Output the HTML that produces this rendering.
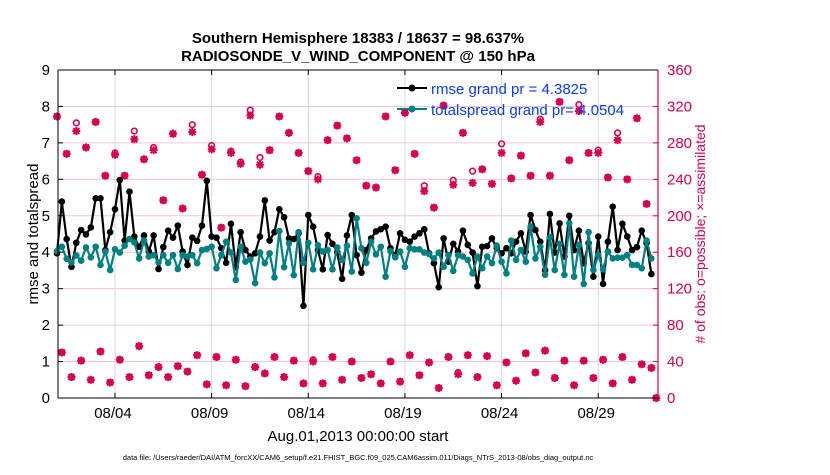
<!DOCTYPE html>
<html><head><meta charset="utf-8">
<style>
body{margin:0;background:#fff;font-family:"Liberation Sans",sans-serif;}
svg text{font-family:"Liberation Sans",sans-serif;}
</style></head>
<body>
<svg id="chart" width="830" height="470" xmlns="http://www.w3.org/2000/svg">
<rect width="830" height="470" fill="#fff"/>
<text x="358" y="43" text-anchor="middle" font-size="15" font-weight="bold">Southern Hemisphere 18383 / 18637 = 98.637%</text>
<text x="358" y="61" text-anchor="middle" font-size="15" font-weight="bold">RADIOSONDE_V_WIND_COMPONENT @ 150 hPa</text>
<g id="grid"></g>
<g id="marks"></g>
<g id="axes"></g>
<text transform="translate(38,234) rotate(-90)" text-anchor="middle" font-size="15">rmse and totalspread</text>
<text transform="translate(705,234) rotate(-90)" text-anchor="middle" font-size="14" fill="#d6004f"># of obs: o=possible; ×=assimilated</text>
<text x="358" y="441" text-anchor="middle" font-size="15">Aug.01,2013 00:00:00 start</text>
<text x="358" y="460" text-anchor="middle" font-size="7.5">data file: /Users/raeder/DAI/ATM_forcXX/CAM6_setup/f.e21.FHIST_BGC.f09_025.CAM6assim.011/Diags_NTrS_2013-08/obs_diag_output.nc</text>
<g>
<line x1="397" y1="88" x2="427" y2="88" stroke="#000" stroke-width="2"/>
<circle cx="412" cy="88" r="3.5" fill="#000"/>
<text x="431" y="94" font-size="15" fill="#0a3cff">rmse grand pr = 4.3825</text>
<line x1="397" y1="109" x2="427" y2="109" stroke="#008080" stroke-width="2"/>
<circle cx="412" cy="109" r="3.5" fill="#008080"/>
<text x="431" y="115" font-size="15" fill="#0a3cff">totalspread grand pr= 4.0504</text>
</g>
</svg>
<script>
const tickDays = [3, 8, 13, 18, 23, 28];
const tickLabels = ["08/04", "08/09", "08/14", "08/19", "08/24", "08/29"];
const leftTicks = [0,1,2,3,4,5,6,7,8,9];
const rightTicks = [0,40,80,120,160,200,240,280,320,360];
const rmse = [3.97,5.39,4.36,3.60,4.26,4.61,4.49,4.68,5.48,5.48,4.06,4.55,5.18,5.98,4.32,5.66,4.43,4.15,4.46,4.02,4.46,3.54,4.14,4.59,4.40,4.73,4.02,3.65,4.40,4.31,4.73,5.96,
4.43,4.40,4.11,3.71,4.78,3.59,4.55,4.06,3.88,3.97,4.43,5.42,4.32,4.55,5.18,4.96,4.38,4.36,4.52,2.53,5.02,4.70,4.06,3.53,4.47,4.23,4.00,3.27,4.46,5.02,3.92,
3.44,4.06,4.38,4.57,4.63,4.70,4.11,3.92,4.52,4.34,4.29,4.43,4.52,4.63,3.97,3.70,3.04,4.38,3.74,4.23,4.02,4.59,4.20,3.99,3.07,4.15,4.17,4.38,4.11,3.97,4.11,
3.97,4.29,4.52,4.02,5.02,4.61,4.29,3.51,5.05,3.99,4.79,3.88,5.00,4.06,4.59,3.70,4.25,3.33,4.43,3.13,4.29,5.25,4.06,4.78,4.43,4.06,4.14,4.59,4.25,3.40];
const spread = [4.03,4.15,3.82,3.72,3.91,3.77,4.13,3.86,4.15,3.65,4.02,3.51,4.08,3.99,4.18,4.36,4.27,3.83,4.32,3.88,3.92,3.72,3.92,3.71,3.92,3.54,3.92,3.88,3.92,3.70,4.06,4.09,
4.15,3.56,3.92,4.29,3.99,3.24,4.15,3.74,3.80,3.15,3.99,3.70,3.97,3.31,4.58,3.59,4.24,3.37,4.55,3.71,4.26,3.53,4.19,4.02,4.06,3.53,4.13,3.79,4.18,3.47,
4.93,4.11,3.71,4.29,3.94,4.15,3.33,4.03,3.86,4.02,3.60,4.11,4.08,4.08,3.99,3.95,3.83,3.99,3.60,3.92,3.49,3.92,3.88,3.79,3.42,3.88,3.56,3.88,3.70,4.18,3.74,
3.42,4.32,3.79,4.06,3.74,4.70,3.83,4.15,3.38,4.41,3.51,4.23,3.38,4.79,3.33,4.20,3.13,4.55,3.51,3.92,3.53,4.02,3.83,3.85,3.85,3.92,3.65,3.65,3.56,4.32,3.83];
const assimilated = [309,50,268,23,293,41,275,20,303,51,244,17,267,42,244,23,284,57,262,25,272,34,217,23,290,35,208,29,292,47,245,15,
273,45,187,14,269,42,257,13,310,34,256,27,272,45,309,23,291,41,269,16,249,40,240,16,283,45,299,20,285,40,261,22,
233,26,231,16,309,40,250,18,313,47,268,25,227,39,209,11,321,45,234,26,291,47,236,23,251,46,235,14,269,39,
241,19,266,49,244,28,303,52,244,22,325,41,261,14,315,41,269,22,269,42,242,16,283,45,240,20,307,37,213,33,0];
const possible = [309,50,268,23,302,41,275,20,303,51,244,17,269,42,244,23,293,57,262,25,275,34,217,23,290,35,208,29,300,47,245,15,
277,45,187,14,271,42,259,13,316,34,264,27,272,45,309,23,291,41,269,16,249,42,243,16,283,45,299,20,285,40,261,22,
233,26,231,16,309,40,250,18,313,47,268,25,233,39,209,11,321,45,239,28,291,47,249,23,251,46,235,14,279,39,
241,19,266,49,244,28,306,52,244,22,325,41,261,14,322,41,269,22,272,42,242,16,291,45,240,20,307,37,213,33,0];

const NS = "http://www.w3.org/2000/svg";
const X0 = 57, XR = 658, YT = 70, YB = 398, PL = 58;
const xOfDay = d => X0 + d * 19.33;
const xOfIdx = i => xOfDay(i * 0.25);
const yL = v => YB - v * (YB - YT) / 9;
const yR = c => YB - c * (YB - YT) / 360;
function el(tag, attrs, parent){const e=document.createElementNS(NS,tag);for(const k in attrs)e.setAttribute(k,attrs[k]);parent.appendChild(e);return e;}
const grid = document.getElementById('grid'), marks = document.getElementById('marks'), axes = document.getElementById('axes');

rightTicks.forEach(c=>{ if(c>0&&c<360){const l=el('line',{x1:PL,x2:XR,y1:yR(c),y2:yR(c),stroke:'#f3c6d6','stroke-width':1},grid);

}});
tickDays.forEach((d,k)=>{const x=xOfDay(d);
const l=el('line',{x1:x,x2:x,y1:YT,y2:YB,stroke:'#d8d8d8','stroke-width':1},grid);


el('line',{x1:x,x2:x,y1:YB,y2:YB-5,stroke:'#000'},axes);
el('line',{x1:x,x2:x,y1:YT,y2:YT+5,stroke:'#000'},axes);
const t=el('text',{x:x-2,y:YB+20,'text-anchor':'middle','font-size':15},axes);t.textContent=tickLabels[k];

});
leftTicks.forEach(v=>{const y=yL(v);el('line',{x1:PL,x2:PL+5,y1:y,y2:y,stroke:'#000'},axes);
const t=el('text',{x:PL-8,y:y+5,'text-anchor':'end','font-size':15},axes);t.textContent=v;

});
rightTicks.forEach(c=>{const y=yR(c);el('line',{x1:XR-5,x2:XR,y1:y,y2:y,stroke:'#d6004f'},axes);
const t=el('text',{x:XR+9,y:y+5,'text-anchor':'start','font-size':15,fill:'#d6004f'},axes);t.textContent=c;

});
el('line',{x1:PL,x2:XR,y1:YT,y2:YT,stroke:'#000'},axes);
el('line',{x1:PL,x2:XR,y1:YB,y2:YB,stroke:'#000'},axes);
el('line',{x1:PL,x2:PL,y1:YT,y2:YB,stroke:'#000'},axes);
el('line',{x1:XR,x2:XR,y1:YT,y2:YB,stroke:'#d6004f','stroke-width':1.2},axes);

assimilated.forEach((c,i)=>{const x=Math.min(xOfIdx(i),XR),y=yR(c);
const g=el('g',{},marks);


el('path',{d:`M${x-4} ${y}H${x+4}M${x} ${y-4}V${y+4}M${x-3} ${y-3}L${x+3} ${y+3}M${x-3} ${y+3}L${x+3} ${y-3}`,stroke:'#d6004f','stroke-width':2},g);
el('circle',{cx:x,cy:y,r:2.5,fill:'#d6004f'},g);});
possible.forEach((c,i)=>{const x=Math.min(xOfIdx(i),XR),y=yR(c);
const p=el('circle',{cx:x,cy:y,r:2.8,fill:'none',stroke:'#d6004f','stroke-width':1.6},marks);

});

function series(vals,color,name){
const pl=el('polyline',{points:vals.map((v,i)=>xOfIdx(i)+','+yL(v)).join(' '),fill:'none',stroke:color,'stroke-width':2.2},marks);


vals.forEach((v,i)=>{const c=el('circle',{cx:xOfIdx(i),cy:yL(v),r:3.3,fill:color},marks);

});}
series(rmse,'#000','rmse');
series(spread,'#008080','totalspread');
</script>
</body></html>
